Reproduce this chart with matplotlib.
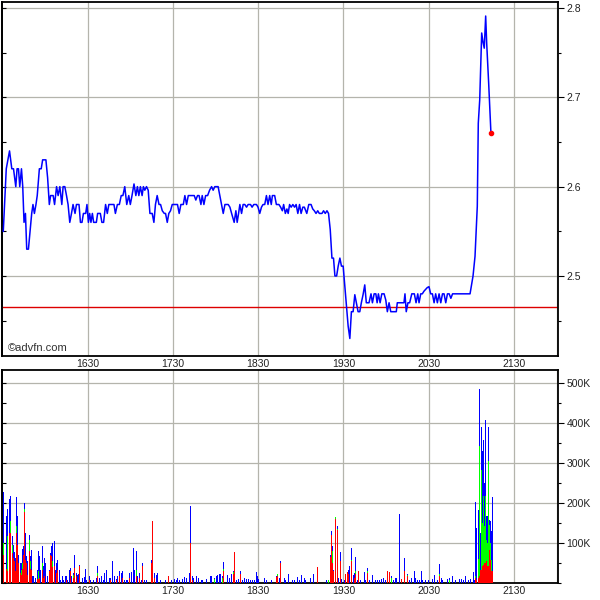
import matplotlib
matplotlib.use("Agg")
import matplotlib.pyplot as plt
from matplotlib.ticker import MultipleLocator

plt.rcParams['font.family'] = ['Liberation Sans', 'DejaVu Sans']

# ---- data (x = minutes after 15:30) ----
price_minutes = [0.6, 2.7, 5.0, 6.6, 7.8, 9.4, 10.3, 11.3, 12.2, 13.4, 14.3, 15.2, 16.2, 17.1, 18.3,
                 20.6, 21.5, 22.5, 23.6, 24.5, 26.0, 27.3, 28.3, 30.6, 31.8, 33.0, 33.9, 35.7, 36.7,
                 38.1, 39.2, 40.4, 41.8, 42.7, 43.9, 45.1, 46.2, 47.4, 48.6, 49.7, 51.1, 52.1, 53.9,
                 54.9, 56.0, 57.0, 58.6, 59.5, 60.5, 61.4, 62.3, 63.3, 64.2, 66.1, 67.0, 68.9, 70.0,
                 71.2, 72.6, 73.8, 74.9, 78.5, 79.5,
                 80.9, 82.3, 83.6, 84.8, 86.1, 87.5, 88.9, 90.0, 91.2, 92.6, 93.9, 95.0, 96.0, 97.1,
                 98.3, 99.2, 100.2, 101.4, 102.6, 103.8, 105.4, 106.6, 107.7, 108.9, 110.2, 111.3,
                 112.5, 113.9, 114.8, 116.0, 117.1, 118.3, 119.5, 121.3, 123.2, 124.4, 125.6, 127.3,
                 128.4, 129.6, 130.8, 132.6, 135.0, 136.1, 137.3, 138.4, 139.7, 140.6, 141.8, 143.0,
                 144.4, 145.8, 147.2, 148.3, 149.5, 151.8, 153.0, 154.2, 155.4, 156.6, 158.9, 160.1,
                 161.3, 163.1,
                 164.3, 165.2, 166.2, 167.1, 168.3, 169.4, 170.6, 171.8, 172.9, 174.6, 175.7, 176.9,
                 178.8, 179.9, 181.1, 182.3, 183.4, 184.6, 185.8, 186.9, 188.1, 189.2, 190.0, 191.6,
                 192.8, 194.6, 195.8, 197.0, 197.9, 199.1, 200.2, 201.1, 202.1, 203.2, 204.4, 205.6,
                 206.7, 207.9, 209.1, 210.2, 211.4, 212.5, 214.2, 215.6, 217.2, 218.4, 219.5, 220.7,
                 221.9, 223.0, 224.9, 226.0, 227.2, 228.4, 229.5,
                 230.7, 231.9, 233.0, 234.0, 235.2, 236.3, 237.5, 238.6, 239.8, 241.0, 242.1, 243.3,
                 244.5, 245.6, 246.8, 248.0, 249.1, 250.3, 251.5, 252.6, 253.8, 255.0, 256.1, 258.0,
                 259.4, 260.4, 261.6, 262.8, 263.7, 264.6, 265.8, 267.0, 268.6, 269.8, 270.9, 272.1,
                 273.3, 275.6, 277.2, 277.9, 280.3, 282.6, 283.3, 284.2, 285.4, 286.6, 288.1, 289.9,
                 291.1, 292.3, 293.2, 294.4, 295.5, 296.7, 297.8, 299.0, 300.2, 301.4, 302.6, 303.8,
                 304.9, 306.1, 307.3, 308.5, 309.7, 310.8, 312.0, 313.2, 314.4, 315.6, 316.8, 318.0,
                 329.1, 331.2, 332.6, 333.5, 334.2, 334.9, 335.9, 337.3, 338.2, 339.1, 340.1, 340.8,
                 342.2, 343.8]
price_values = [2.55, 2.62, 2.64, 2.62, 2.62, 2.60, 2.62, 2.62, 2.60, 2.62, 2.60, 2.56, 2.57, 2.53, 2.53,
                2.57, 2.58, 2.57, 2.58, 2.59, 2.62, 2.62, 2.63, 2.63, 2.61, 2.58, 2.59, 2.59, 2.58,
                2.60, 2.59, 2.60, 2.58, 2.60, 2.60, 2.59, 2.58, 2.56, 2.57, 2.58, 2.57, 2.58, 2.58,
                2.56, 2.56, 2.57, 2.57, 2.58, 2.56, 2.57, 2.56, 2.57, 2.56, 2.56, 2.57, 2.57, 2.56,
                2.56, 2.58, 2.57, 2.58, 2.58, 2.57,
                2.58, 2.58, 2.59, 2.59, 2.60, 2.58, 2.59, 2.58, 2.59, 2.603, 2.59, 2.60, 2.59, 2.60,
                2.59, 2.60, 2.596, 2.60, 2.596, 2.57, 2.57, 2.56, 2.58, 2.59, 2.58, 2.58,
                2.573, 2.57, 2.57, 2.56, 2.57, 2.573, 2.58, 2.58, 2.58, 2.57, 2.58, 2.58,
                2.59, 2.58, 2.59, 2.59, 2.59, 2.585, 2.59, 2.59, 2.58, 2.59, 2.58, 2.59,
                2.59, 2.596, 2.60, 2.596, 2.60, 2.60, 2.59, 2.58, 2.57, 2.58, 2.58, 2.577,
                2.57, 2.56,
                2.573, 2.56, 2.57, 2.58, 2.57, 2.58, 2.58, 2.577, 2.58, 2.58, 2.577, 2.58,
                2.58, 2.577, 2.57, 2.577, 2.58, 2.58, 2.59, 2.58, 2.59, 2.58, 2.59, 2.59,
                2.58, 2.58, 2.577, 2.573, 2.58, 2.57, 2.575, 2.57, 2.58, 2.577, 2.58, 2.577,
                2.58, 2.57, 2.58, 2.57, 2.577, 2.577, 2.57, 2.58, 2.58, 2.575, 2.573, 2.57,
                2.573, 2.57, 2.57, 2.573, 2.57, 2.573, 2.57,
                2.552, 2.52, 2.52, 2.50, 2.50, 2.511, 2.52, 2.511, 2.511, 2.488, 2.466, 2.444,
                2.43, 2.46, 2.46, 2.479, 2.47, 2.46, 2.46, 2.47, 2.479, 2.49, 2.47, 2.47,
                2.48, 2.47, 2.48, 2.48, 2.47, 2.48, 2.47, 2.48, 2.48, 2.473, 2.46, 2.47,
                2.46, 2.46, 2.46, 2.47, 2.47, 2.47, 2.48, 2.46, 2.47, 2.47, 2.48, 2.48,
                2.47, 2.48, 2.47, 2.48, 2.48, 2.483, 2.485, 2.487, 2.488, 2.48, 2.48, 2.47,
                2.48, 2.47, 2.48, 2.47, 2.48, 2.48, 2.47, 2.48, 2.48, 2.475, 2.48, 2.48,
                2.48, 2.50, 2.522, 2.555, 2.578, 2.671, 2.697, 2.772, 2.762, 2.755, 2.791, 2.761,
                2.716, 2.66]
previous_close = 2.465

# volume (thousands): red = bottom, green = middle, blue = top
vol_minutes = [1.0, 2.6, 3.3, 4.7, 5.6, 6.8, 7.5, 8.5, 9.2, 9.9, 10.6, 11.5, 12.5, 13.2, 13.9, 14.6,
               15.3, 16.2, 16.9, 17.8, 18.8, 19.5, 20.4, 21.3, 22.2, 23.2, 24.6, 25.5, 26.2, 27.1,
               27.9, 28.9, 29.8, 30.5, 31.4, 32.9, 33.6, 34.5, 35.4, 36.3, 37.3, 38.2, 39.1, 40.3,
               41.0, 42.2, 43.3, 44.3, 45.2, 46.1, 47.1, 48.0, 48.9, 49.9, 50.9, 51.8, 52.8, 53.7,
               54.4, 55.3, 56.3, 57.7, 58.6, 59.5, 61.4, 62.3, 64.4, 66.1, 67.2, 68.4, 69.6, 70.8,
               72.0, 73.2, 74.3, 75.5, 76.4, 77.8, 79.0, 80.2, 81.3, 82.5, 83.7, 84.8, 86.0, 87.1,
               88.3, 89.6, 90.7, 92.4, 93.3, 94.2, 95.4, 96.6, 97.7, 98.9, 100.3, 101.2, 104.7,
               105.9, 107.1, 108.2, 109.4, 111.0, 114.6, 116.7, 118.8, 121.1, 122.3, 123.5, 124.6,
               126.5, 128.1, 129.7, 131.6, 132.5, 133.5, 134.7, 136.4, 138.0,
               139.9, 141.0, 143.8, 146.2, 146.9, 149.0, 150.4, 151.5, 152.7, 153.6, 154.6, 155.5,
               158.6, 159.8, 161.0, 162.6, 163.5, 164.9, 166.3, 167.5, 169.1, 170.5, 171.9, 173.3,
               174.5, 176.1, 177.5, 178.9, 179.6, 180.4, 184.4, 185.6, 189.1, 193.0, 193.7, 194.9,
               195.8, 198.2, 199.1, 201.5, 204.3, 205.5, 207.8, 209.0, 210.6, 212.4, 213.6, 216.9,
               218.7, 221.9, 223.5, 228.2, 229.5, 230.7, 231.4, 232.4, 233.3, 234.2, 235.6, 236.5,
               237.9, 238.9, 240.5, 241.7, 242.8, 243.5, 244.5, 245.7, 246.9, 247.8, 248.5, 249.7,
               250.6, 252.3, 254.6, 255.8, 256.9, 258.1, 260.4, 262.8, 264.2, 265.2, 266.8, 268.0,
               269.4, 271.3, 272.2, 274.1, 275.2, 276.4, 277.6,
               279.2, 281.1, 282.7, 284.8, 286.2, 288.1, 289.8, 290.5, 292.1, 293.3, 294.7, 295.6,
               298.0, 299.8, 302.6, 304.0, 306.1, 307.3, 308.7, 309.6, 313.1, 314.3, 316.7, 319.0,
               321.4, 322.8, 324.4, 326.1, 327.9, 329.3, 331.2, 332.1, 332.8, 333.5, 334.7, 335.6,
               336.3, 337.0, 337.7, 338.4, 339.1, 339.8, 340.5, 341.2, 341.9, 342.6, 343.3, 344.0,
               344.7]
vol_red = [70, 33, 28, 124, 124, 75, 62, 53, 30, 124, 95, 49, 24, 20, 33, 70,
           176, 57, 49, 20, 78, 35, 32, 0, 0, 0, 10, 10, 12, 0,
           32, 12, 16, 0, 0, 28, 70, 66, 40, 41, 0, 24, 32, 0,
           0, 0, 0, 0, 7, 0, 0, 28, 0, 12, 37, 16, 0, 0,
           41, 32, 0, 0, 0, 0, 7, 0, 0, 0, 16, 0, 0, 0,
           0, 0, 0, 0, 7, 0, 0, 6, 0, 16, 0, 12, 0, 0,
           0, 12, 0, 0, 0, 16, 0, 12, 0, 41, 0, 0, 49,
           153, 12, 0, 0, 0, 0, 16, 0, 0, 0, 0, 0,
           0, 0, 0, 0, 99, 7, 0, 0, 0,
           0, 0, 0, 0, 0, 0, 0, 0, 0, 0, 0, 28,
           0, 0, 0, 22, 76, 0, 0, 22, 0, 0, 0, 0,
           0, 0, 0, 0, 0, 0, 0, 0, 0, 14, 16, 0,
           49, 0, 0, 0, 0, 0, 0, 0, 0, 0, 0, 0,
           0, 38, 9, 0, 0, 64, 120, 49, 28, 160, 132, 0,
           53, 0, 0, 22, 26, 22, 0, 53, 0, 12, 22, 0,
           30, 0, 0, 0, 24, 0, 0, 0, 0, 0, 0, 0,
           0, 30, 27, 0, 0, 0, 0,
           0, 9, 28, 16, 0, 0, 0, 0, 0, 0, 0, 0,
           0, 0, 0, 0, 0, 17, 0, 0, 0, 0, 0, 0,
           0, 0, 0, 0, 0, 0, 0, 0, 12, 7, 12, 16,
           32, 32, 41, 45, 49, 49, 53, 41, 41, 82, 57, 28,
           28]
vol_green = [29, 0, 88, 0, 29, 20, 0, 0, 0, 17, 0, 0, 0, 12, 17, 0,
             8, 0, 0, 0, 29, 18, 0, 0, 0, 0, 0, 18, 0, 0,
             17, 0, 0, 0, 0, 0, 0, 0, 13, 0, 0, 0, 0, 0,
             0, 0, 0, 0, 0, 0, 0, 0, 0, 8, 0, 0, 0, 0,
             0, 0, 0, 0, 0, 0, 0, 0, 0, 0, 8, 0, 0, 0,
             0, 0, 0, 0, 0, 0, 0, 0, 0, 0, 0, 0, 0, 0,
             0, 0, 0, 0, 0, 16, 0, 0, 0, 0, 0, 0, 0,
             0, 0, 0, 0, 0, 0, 0, 0, 0, 0, 0, 0,
             0, 0, 0, 0, 0, 0, 0, 0, 0,
             0, 0, 0, 0, 0, 9, 0, 0, 0, 0, 12, 5,
             0, 0, 0, 4, 0, 0, 0, 0, 0, 0, 0, 0,
             0, 0, 0, 0, 0, 0, 0, 0, 0, 0, 6, 0,
             0, 0, 0, 0, 0, 0, 0, 0, 0, 0, 0, 0,
             0, 0, 0, 0, 7, 0, 0, 29, 0, 3, 2, 0,
             0, 0, 0, 0, 0, 0, 0, 4, 0, 0, 8, 0,
             0, 0, 0, 0, 4, 0, 0, 0, 0, 0, 0, 0,
             0, 0, 0, 12, 0, 0, 0,
             0, 0, 0, 4, 0, 0, 0, 0, 0, 0, 0, 0,
             0, 0, 0, 0, 0, 5, 0, 0, 0, 7, 0, 0,
             0, 0, 0, 0, 0, 0, 0, 0, 4, 0, 47, 326,
             0, 250, 108, 171, 92, 167, 54, 58, 262, 62, 42, 29,
             0]
vol_blue = [128, 133, 67, 85, 64, 21, 33, 23, 32, 72, 71, 21, 25, 17, 33, 21,
            15, 67, 17, 33, 13, 13, 50, 16, 16, 12, 22, 50, 54, 32,
            42, 29, 46, 49, 16, 4, 4, 25, 46, 62, 32, 25, 25, 32,
            7.5, 16, 7.5, 16, 9, 7.5, 32, 9, 16, 4, 33, 8, 20, 22,
            4, 9, 12, 14, 34, 7.5, 9, 7.5, 6, 12, 17, 12, 16, 7.5,
            24, 32, 7.5, 12, 5, 53, 16, 3, 16, 12, 24, 16, 7.5, 7.5,
            7.5, 12, 26, 87, 32, 46, 16, 12, 7.5, 8, 7.5, 6, 8,
            0, 12, 20, 24, 7.5, 7.5, 0, 6, 9, 7.5, 12, 7.5,
            10, 14, 12, 24, 92, 9, 12, 17, 12,
            6, 7.5, 9, 17, 17, 3, 16, 20, 22, 22, 4, 18,
            20, 12, 22, 4, 0, 7.5, 9, 8, 7.5, 12, 9, 9,
            6, 7.5, 7.5, 27.5, 17, 9, 12, 6, 6, 3, 0, 12,
            4, 12, 7.5, 22, 6, 6, 14, 7.5, 20, 12, 7.5, 12,
            22, 0, 0, 6, 0, 4, 10, 14, 4, 0, 8, 12,
            24, 9, 6, 0, 0, 10, 41, 29, 20, 12, 33, 7.5,
            0, 6, 26, 7.5, 9, 7.5, 20, 6, 7.5, 7.5, 9, 12,
            7.5, 0, 0, 4, 7.5, 12, 12,
            172, 0, 34, 2, 7.5, 12, 28, 12, 7.5, 7.5, 28, 7.5,
            6, 7.5, 9, 20, 7.5, 25, 12, 7.5, 9, 5, 17, 7.5,
            9, 9, 7.5, 17, 7.5, 9, 26, 7.5, 185, 130, 123, 143,
            92, 108, 179, 141, 108, 191, 60, 67, 86, 13, 54, 71,
            185]

time_ticks = [60, 120, 180, 240, 300, 360]
time_labels = ["1630", "1730", "1830", "1930", "2030", "2130"]
price_ticks = [2.5, 2.6, 2.7, 2.8]
price_labels = ["2.5", "2.6", "2.7", "2.8"]
vol_ticks = [100, 200, 300, 400, 500]
vol_labels = ["100K", "200K", "300K", "400K", "500K"]

# ---- figure ----
fig = plt.figure(figsize=(6, 6), dpi=100)
fig.patch.set_facecolor("white")
ax1 = fig.add_axes([2/600, 1 - 356/600, 556/600, 354/600])
ax2 = fig.add_axes([2/600, 1 - 582.5/600, 556/600, 212.5/600])

tick_color = "#222222"
grid_kw = dict(color="#b4b4ac", linewidth=0.9, zorder=0)

for ax in (ax1, ax2):
    ax.set_xlim(-0.3, 391)
    for t in time_ticks + [390]:
        ax.axvline(t, **grid_kw)
    for s in ax.spines.values():
        s.set_linewidth(1.3)
        s.set_color("black")
    ax.set_xticks(time_ticks)
    ax.set_xticklabels(time_labels)
    ax.tick_params(axis="x", length=0, pad=2.5, labelsize=7.5, labelcolor=tick_color)
    ax.yaxis.tick_right()
    ax.tick_params(axis="y", which="major", direction="out", length=4, width=0.8,
                   labelsize=7.5, labelcolor=tick_color, pad=2, right=True, left=False)
    ax.tick_params(axis="y", which="minor", direction="out", length=2.5, width=0.8,
                   right=True, left=False)

# price panel
ax1.set_ylim(2.4104, 2.8067)
ax1.set_yticks(price_ticks)
ax1.set_yticklabels(price_labels)
ax1.yaxis.set_minor_locator(MultipleLocator(0.05))
for p in price_ticks:
    ax1.axhline(p, **grid_kw)
ax1.axhline(previous_close, color="#dd0000", linewidth=1.0, zorder=2)
ax1.plot(price_minutes, price_values, color="#0000ff", linewidth=1.1, zorder=3)
ax1.plot(price_minutes[-1], price_values[-1], "o", color="#ff0000", markersize=3, zorder=4)
ax1.text(0.011, 0.008, "\u00a9advfn.com", transform=ax1.transAxes, fontsize=8,
         color="#333333", ha="left", va="bottom")

# volume panel
ax2.set_ylim(0, 532)
ax2.set_yticks(vol_ticks)
ax2.set_yticklabels(vol_labels)
ax2.yaxis.set_minor_locator(MultipleLocator(50))
for v in vol_ticks:
    ax2.axhline(v, **grid_kw)
green_base = vol_red
blue_base = [r + g for r, g in zip(vol_red, vol_green)]
bw = 0.7
bar_kw = dict(width=bw, linewidth=0, zorder=3, antialiased=False)
ax2.bar(vol_minutes, vol_red, color="#ff0000", **bar_kw)
ax2.bar(vol_minutes, vol_green, bottom=green_base, color="#00ff00", **bar_kw)
ax2.bar(vol_minutes, vol_blue, bottom=blue_base, color="#0000ff", **bar_kw)

# small inward minor ticks on the left spine
for ax in (ax1, ax2):
    sec = ax.secondary_yaxis("left")
    sec.yaxis.set_minor_locator(ax.yaxis.get_minor_locator())
    sec.set_yticks([])
    sec.tick_params(axis="y", which="minor", direction="in", length=3, width=0.8)
    sec.spines["left"].set_linewidth(1.3)

fig.savefig("out.png", dpi=100, facecolor="white")
